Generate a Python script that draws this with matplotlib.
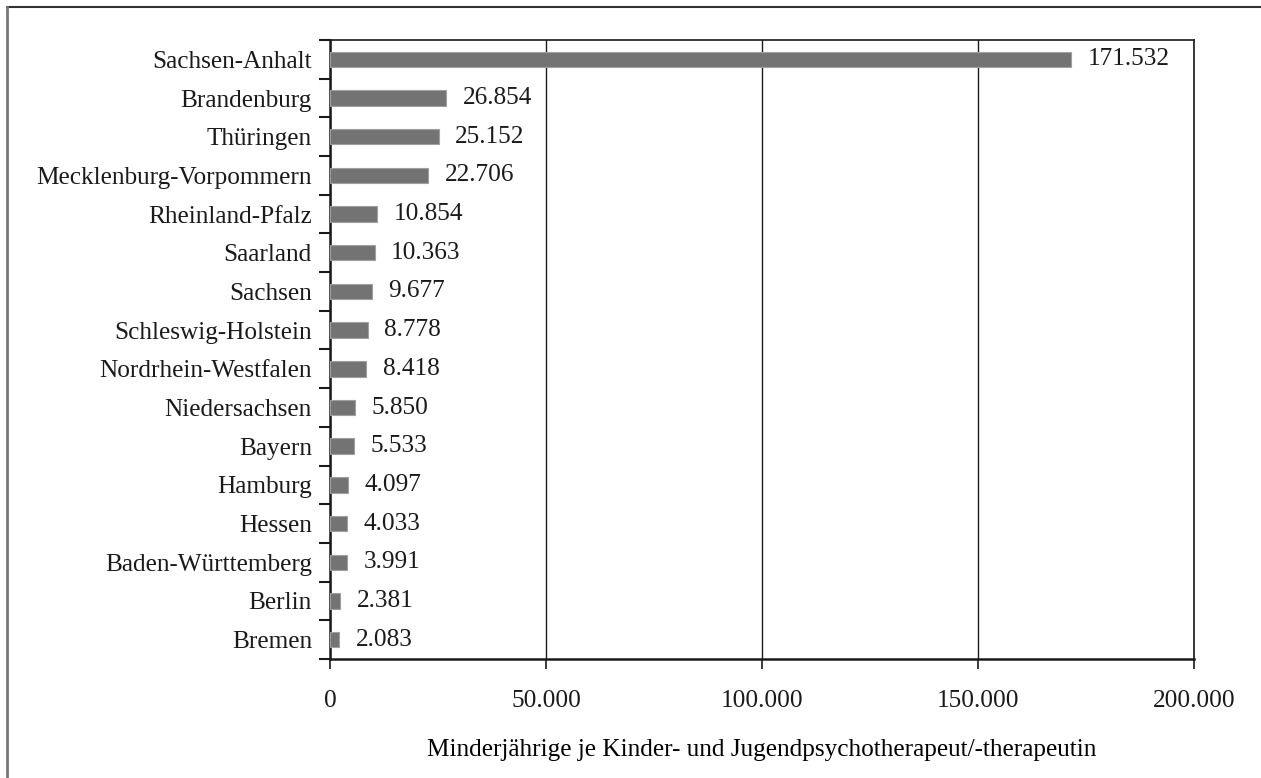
import numpy as np
import matplotlib
matplotlib.use("Agg")
import matplotlib.pyplot as plt
from matplotlib.ticker import FixedLocator, FuncFormatter
from matplotlib.lines import Line2D

# ── Daten ─────────────────────────────────────────────────────
laender = ["Sachsen-Anhalt", "Brandenburg", "Thüringen", "Mecklenburg-Vorpommern",
           "Rheinland-Pfalz", "Saarland", "Sachsen", "Schleswig-Holstein",
           "Nordrhein-Westfalen", "Niedersachsen", "Bayern", "Hamburg", "Hessen",
           "Baden-Württemberg", "Berlin", "Bremen"]
werte = [171532, 26854, 25152, 22706, 10854, 10363, 9677, 8778,
         8418, 5850, 5533, 4097, 4033, 3991, 2381, 2083]
x_ticks = [0, 50000, 100000, 150000, 200000]
x_label = "Minderjährige je Kinder- und Jugendpsychotherapeut/-therapeutin"


def de_format(v, pos=None):
    return f"{int(v):,}".replace(",", ".")


plt.rcParams["font.family"] = "Liberation Serif"
plt.rcParams["font.size"] = 18.2
plt.rcParams["text.color"] = "#1a1a1a"
plt.rcParams["xtick.color"] = "#1a1a1a"
plt.rcParams["ytick.color"] = "#1a1a1a"

fig = plt.figure(figsize=(12.61, 7.78), dpi=100)
ax = fig.add_axes([0.2617, 0.153, 0.6852, 0.7956])

y = np.arange(len(laender))
ax.barh(y, werte, height=0.4, color="#737373", edgecolor="#a0a0a0",
        linewidth=0.8, zorder=3)
for yi, v in zip(y, werte):
    ax.text(v + 3800, yi, de_format(v), va="center", ha="left", zorder=4)

ax.set_ylim(len(laender) - 0.5, -0.5)
ax.set_xlim(0, 200000)
ax.set_yticks(y)
ax.set_yticklabels(laender)
ax.yaxis.set_minor_locator(FixedLocator(np.arange(-0.5, len(laender), 1)))
ax.tick_params(axis="y", which="major", length=0, pad=13)
ax.tick_params(axis="y", which="minor", length=8, width=1.5, color="#1a1a1a")

ax.xaxis.set_major_locator(FixedLocator(x_ticks))
ax.xaxis.set_major_formatter(FuncFormatter(de_format))
ax.tick_params(axis="x", which="major", length=7, width=1.2, pad=15)
ax.set_xlabel(x_label, labelpad=20)

ax.grid(axis="x", color="#1a1a1a", linewidth=1.0, zorder=1)
for side in ["top", "right"]:
    ax.spines[side].set_linewidth(1.2)
    ax.spines[side].set_color("#1a1a1a")
for side in ["left", "bottom"]:
    ax.spines[side].set_linewidth(1.8)
    ax.spines[side].set_color("#1a1a1a")

# Rahmen um die Abbildung (oben und links)
fig.add_artist(Line2D([0.0055, 1.0], [0.9915, 0.9915], transform=fig.transFigure,
                      color="#333333", linewidth=1.5))
fig.add_artist(Line2D([0.0055, 0.0055], [0.0, 0.9915], transform=fig.transFigure,
                      color="#777777", linewidth=2.0))

fig.savefig("out.png", dpi=100)
plt.close(fig)
